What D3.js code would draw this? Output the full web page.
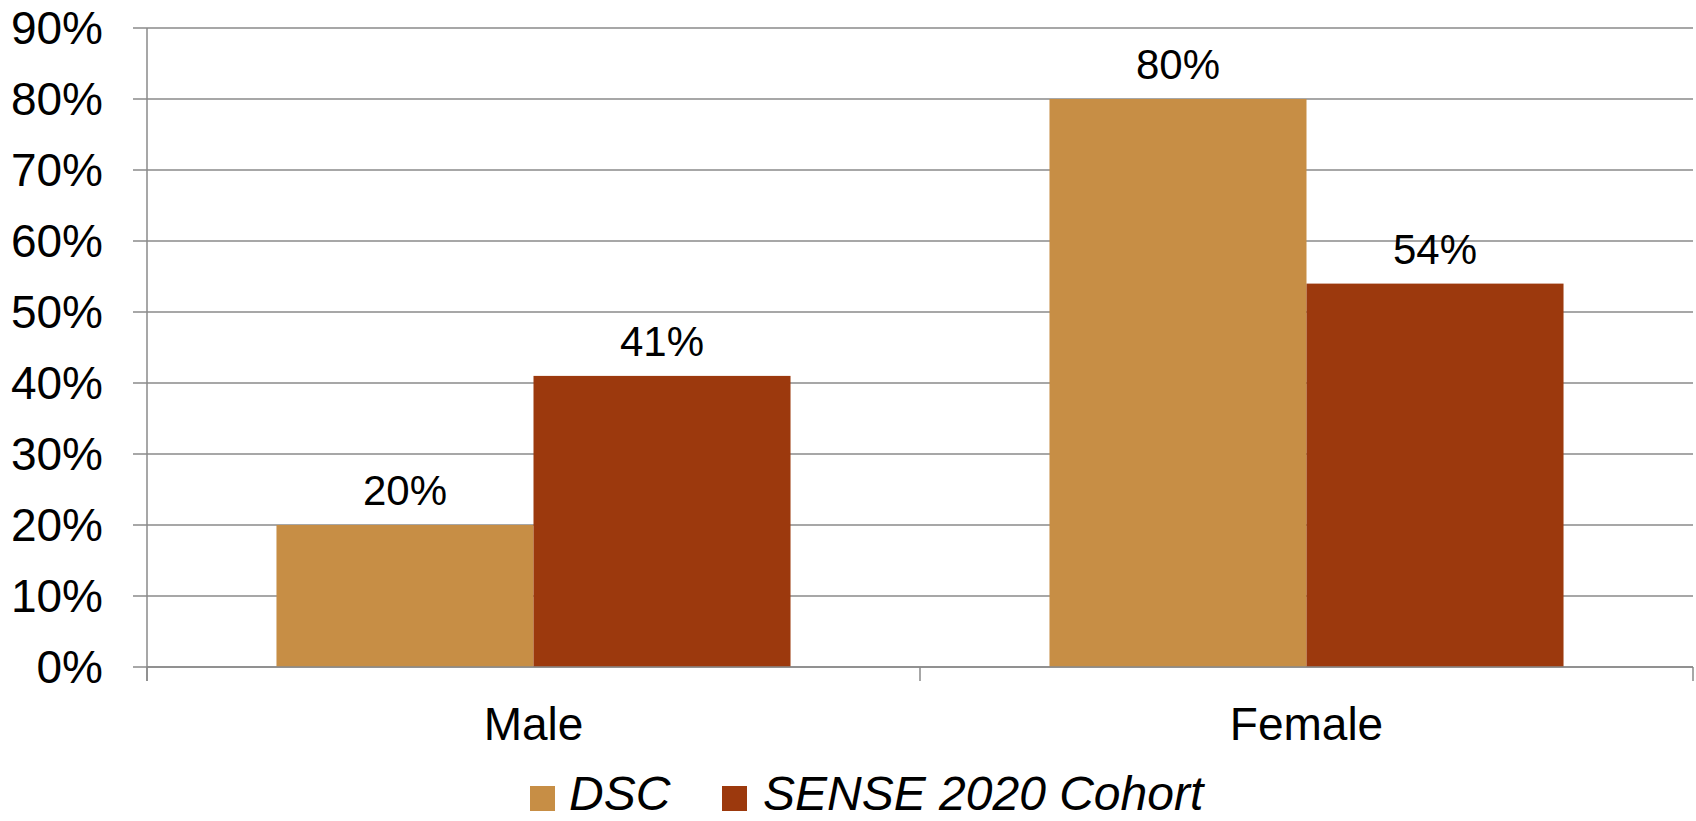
<!DOCTYPE html>
<html>
<head>
<meta charset="utf-8">
<script src="https://cdn.jsdelivr.net/npm/d3@7"></script>
<style>
  html, body { margin: 0; padding: 0; background: #fff; }
  svg { display: block; font-family: "Liberation Sans", Arial, sans-serif; }
</style>
</head>
<body>
<svg id="chart" width="1696" height="821"></svg>
<script>
const categories = ["Male", "Female"];
const seriesNames = ["DSC", "SENSE 2020 Cohort"];
const dscValues = [20, 80];
const senseValues = [41, 54];
const yTicks = [0, 10, 20, 30, 40, 50, 60, 70, 80, 90];
const colors = ["#C78E45", "#9C390D"];

(function () {
const svg = d3.select("#chart");
const mLeft = 147, mRight = 1693, mTop = 28, mBottom = 667;

const x = d3.scaleBand().domain(categories).range([mLeft, mRight])
  .paddingInner(0.335).paddingOuter(0.1675);
const xs = d3.scaleBand().domain(seriesNames).range([0, x.bandwidth()]).padding(0);
const y = d3.scaleLinear().domain([0, 90]).range([mBottom, mTop]);

const gridColor = "#8a8a8a";

svg.append("g").selectAll("line").data(yTicks).join("line")
  .attr("x1", mLeft - 14).attr("x2", mRight)
  .attr("y1", d => y(d)).attr("y2", d => y(d))
  .attr("stroke", gridColor).attr("stroke-width", 1.5);

svg.append("g").selectAll("text").data(yTicks).join("text")
  .attr("x", 103).attr("y", d => y(d))
  .attr("dy", "0.35em")
  .attr("text-anchor", "end")
  .attr("font-size", 46)
  .attr("fill", "#000")
  .text(d => d + "%");

const rows = categories.map((c, i) => ({cat: c, vals: [dscValues[i], senseValues[i]]}));
const groups = svg.append("g").selectAll("g").data(rows).join("g")
  .attr("transform", d => `translate(${x(d.cat)},0)`);

groups.selectAll("rect").data(d => d.vals.map((v, j) => ({name: seriesNames[j], v, j}))).join("rect")
  .attr("x", d => xs(d.name))
  .attr("y", d => y(d.v))
  .attr("width", xs.bandwidth())
  .attr("height", d => y(0) - y(d.v))
  .attr("fill", d => colors[d.j]);

groups.selectAll("text").data(d => d.vals.map((v, j) => ({name: seriesNames[j], v, j}))).join("text")
  .attr("x", d => xs(d.name) + xs.bandwidth() / 2)
  .attr("y", d => y(d.v) - 20)
  .attr("text-anchor", "middle")
  .attr("font-size", 42)
  .attr("fill", "#000")
  .text(d => d.v + "%");

svg.append("line").attr("x1", mLeft).attr("x2", mLeft).attr("y1", mTop).attr("y2", mBottom + 14)
  .attr("stroke", gridColor).attr("stroke-width", 1.5);
svg.append("line").attr("x1", mLeft).attr("x2", mRight).attr("y1", mBottom).attr("y2", mBottom)
  .attr("stroke", gridColor).attr("stroke-width", 1.5);
const boundaries = [mLeft, ...categories.slice(1).map(c => x(c) - x.step() * x.paddingInner() / 2), mRight];
svg.append("g").selectAll("line").data(boundaries).join("line")
  .attr("x1", d => d).attr("x2", d => d)
  .attr("y1", mBottom).attr("y2", mBottom + 14)
  .attr("stroke", gridColor).attr("stroke-width", 1.5);

svg.append("g").selectAll("text").data(categories).join("text")
  .attr("x", d => x(d) + x.bandwidth() / 2)
  .attr("y", 740)
  .attr("text-anchor", "middle")
  .attr("font-size", 46)
  .attr("fill", "#000")
  .text(d => d);

const legendItems = [
  {name: seriesNames[0], color: colors[0], sx: 530, tx: 569},
  {name: seriesNames[1], color: colors[1], sx: 722, tx: 763}
];
const lg = svg.append("g");
lg.selectAll("rect").data(legendItems).join("rect")
  .attr("x", d => d.sx).attr("y", 786).attr("width", 25).attr("height", 25)
  .attr("fill", d => d.color);
lg.selectAll("text").data(legendItems).join("text")
  .attr("x", d => d.tx).attr("y", 810)
  .attr("font-size", 48).attr("font-style", "italic")
  .attr("fill", "#000")
  .text(d => d.name);
})();
</script>
</body>
</html>
